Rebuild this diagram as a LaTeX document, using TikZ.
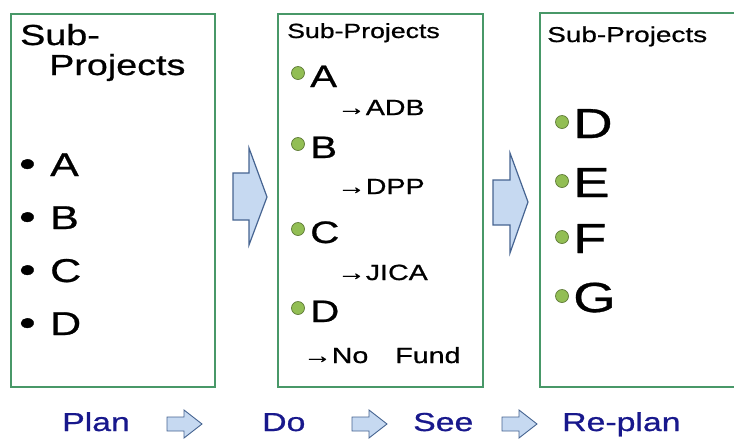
\documentclass[tikz,border=0pt]{standalone}
\usepackage{fontspec}
\setmainfont[FakeStretch=1.3, FakeBold=0.8]{Liberation Sans}
\usepackage{tikz}
\usetikzlibrary{arrows,positioning}
\usepackage{xcolor}
\definecolor{boxgreen}{RGB}{72,152,104}
\definecolor{dotgreen}{RGB}{146,190,84}
\definecolor{arrfill}{RGB}{198,217,241}
\definecolor{arrline}{RGB}{70,100,145}
\definecolor{pdblue}{RGB}{24,24,140}
\tikzstyle{panel} = [draw=boxgreen, line width=2pt]
\tikzstyle{txt} = [anchor=base west, inner sep=0pt]
\tikzstyle{dot} = [circle, fill=dotgreen, draw=dotgreen!65!black, line width=0.7pt, minimum size=13pt, inner sep=0pt]
\tikzstyle{fat} = [fill=arrfill, draw=arrline, line width=1.2pt, line join=miter]
\tikzstyle{stage} = [txt, text=pdblue, font=\fontsize{26}{26}\selectfont]

\begin{document}
\begin{tikzpicture}[x=1pt, y=-1pt]
\useasboundingbox (0,0) rectangle (734,440);
\clip (0,0) rectangle (734,440);

% Plan box
\draw[panel] (11,14) rectangle (215,387);
\node[txt, font=\fontsize{29}{29}\selectfont] (plansub) at (20,45) {Sub-};
\node[txt, font=\fontsize{29}{29}\selectfont] (planproj) at (49,75) {Projects};
\foreach \lbl/\y in {A/176,B/229,C/282,D/335} {
  \node[txt, font=\fontsize{36}{36}\selectfont] (bul\lbl) at (19,\y) {•};
  \node[txt, font=\fontsize{33}{33}\selectfont] (plan\lbl) at (50,\y) {\lbl};
}

% Do box
\draw[panel] (278,14) rectangle (483,387);
\node[txt, font=\fontsize{20.5}{21}\selectfont] (dosub) at (287,38) {Sub-Projects};
\foreach \lbl/\y in {A/87,B/158,C/243,D/322} {
  \node[dot] (dot\lbl) at (298,\y-14) {};
  \node[txt, font=\fontsize{31}{31}\selectfont] (do\lbl) at (310,\y) {\lbl};
}
\node[txt, font=\fontsize{22}{22}\selectfont] (fundA) at (337,115) {→ADB};
\node[txt, font=\fontsize{22}{22}\selectfont] (fundB) at (337,194) {→DPP};
\node[txt, font=\fontsize{22}{22}\selectfont] (fundC) at (337,280) {→JICA};
\node[txt, font=\fontsize{22}{22}\selectfont] (fundD) at (303,363) {→No\hspace{27pt}Fund};

% Re-plan box (runs off the right edge)
\draw[panel] (540,13) rectangle (760,387);
\node[txt, font=\fontsize{21.5}{22}\selectfont] (resub) at (547,42) {Sub-Projects};
\foreach \lbl/\y in {D/138,E/197,F/253,G/312} {
  \node[dot] (rdot\lbl) at (562,\y-16) {};
  \node[txt, font=\fontsize{42}{42}\selectfont] (re\lbl) at (573,\y) {\lbl};
}

% Big arrows between boxes
\draw[fat] (233,173) -- (249,173) -- (249,148) -- (267,197) -- (249,245) -- (249,220) -- (233,220) -- cycle;
\draw[fat] (493,180) -- (510,180) -- (510,153) -- (528,202) -- (510,253) -- (510,225) -- (493,225) -- cycle;

% Bottom row
\node[stage] (plan) at (62,431) {Plan};
\node[stage] (do) at (262,431) {Do};
\node[stage] (see) at (413,431) {See};
\node[stage] (replan) at (562,431) {Re-plan};
\foreach \x in {167,352,502}
  \draw[fat, line width=0.9pt] (\x,417) -- (\x+17,417) -- (\x+17,410) -- (\x+35,424) -- (\x+17,438) -- (\x+17,431) -- (\x,431) -- cycle;
\end{tikzpicture}
\end{document}
